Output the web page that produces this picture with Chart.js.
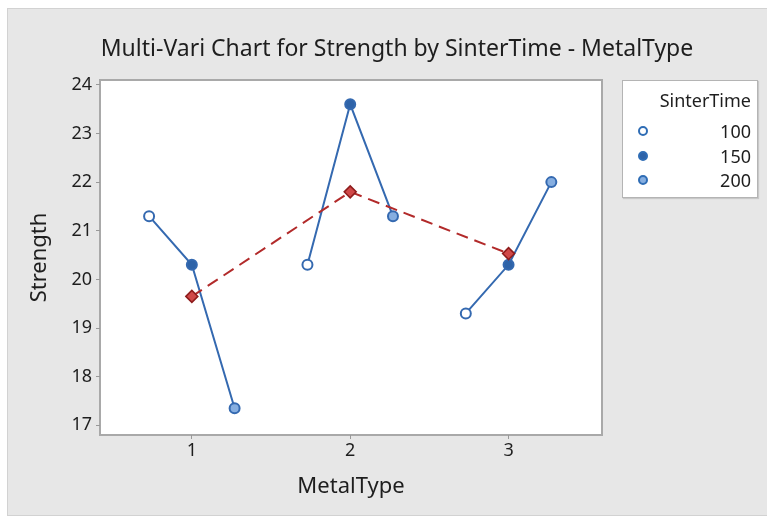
<!DOCTYPE html>
<html lang="en">
<head>
<meta charset="UTF-8" />
<title>Multi-Vari Chart</title>
<script src="https://cdn.jsdelivr.net/npm/chart.js"></script>
<style>
  body { margin: 0; background: #fff; font-family: "Noto Sans", sans-serif; color: #1e1e1e; }
  #panel { position: absolute; left: 7px; top: 8px; width: 760px; height: 506px; background: #e7e7e7; border: 1px solid #d2d2d2; border-right: none; }
  #wrap { position: absolute; left: 0; top: 0; width: 767px; height: 519px; }
  #title { position: absolute; left: 90px; top: 32px; width: 614px; text-align: center; font-size: 23px; line-height: 30px; white-space: nowrap; }
  #legend { position: absolute; left: 622px; top: 80px; width: 134px; height: 116px; background: #fff; border: 1px solid #b4b4b4; box-shadow: 1px 1px 1px #c8c8c8; font-size: 18px; }
  #legend .ttl { position: absolute; right: 6px; top: 7px; line-height: 24px; }
  #legend .row { position: absolute; left: 0; right: 6px; height: 24px; line-height: 24px; text-align: right; }
  #legend .dot { position: absolute; left: 15px; top: 7px; width: 6px; height: 6px; border-radius: 50%; border: 2px solid #2f6db5; }
</style>
</head>
<body>
<div id="panel"></div>
<div id="wrap"><canvas id="mv" width="767" height="519"></canvas></div>
<div id="title">Multi-Vari Chart for Strength by SinterTime - MetalType</div>
<div id="legend"><div class="ttl">SinterTime</div></div>

<script>
// data
const metalTypes = [1, 2, 3];
const sinterTimes = [100, 150, 200];
const strength100 = [21.3, 20.3, 19.3];
const strength150 = [20.3, 23.6, 20.3];
const strength200 = [17.35, 21.3, 22.0];
const meanStrength = [19.65, 21.8, 20.53];
const yTicks = [17, 18, 19, 20, 21, 22, 23, 24];

const series = [strength100, strength150, strength200];
const spread = [-0.27, 0, 0.27]; // sinter times spread around each metal type
const fills = ['#ffffff', '#2e63a8', '#86aee0'];
const blue = '#3469b0';
const red = '#b22a2a';

// one line per metal type, through the three sinter times
const datasets = metalTypes.map((m, i) => ({
    data: sinterTimes.map((t, k) => ({ x: m + spread[k], y: series[k][i] })),
    showLine: true,
    borderColor: blue,
    borderWidth: 2,
    pointRadius: 5,
    pointBorderWidth: 2,
    pointBorderColor: blue,
    pointBackgroundColor: fills,
    order: 1
}));

datasets.push({
    data: metalTypes.map((m, i) => ({ x: m, y: meanStrength[i] })),
    showLine: true,
    borderColor: red,
    borderWidth: 2,
    borderDash: [12, 7],
    pointStyle: 'rectRot',
    pointRadius: 6,
    pointBorderWidth: 1.5,
    pointBorderColor: '#8e1c1c',
    pointBackgroundColor: '#d04848',
    order: 0
});

// white plot box with grey frame
const plotBox = {
    id: 'plotBox',
    beforeDraw(chart) {
        const { ctx, chartArea: a } = chart;
        ctx.save();
        ctx.fillStyle = '#fff';
        ctx.fillRect(a.left, a.top, a.right - a.left, a.bottom - a.top);
        ctx.strokeStyle = '#a9a9a9';
        ctx.lineWidth = 2;
        ctx.strokeRect(a.left, a.top, a.right - a.left, a.bottom - a.top);
        ctx.restore();
    }
};

const font = { family: '"Noto Sans", sans-serif' };

new Chart(document.getElementById('mv'), {
    type: 'scatter',
    data: { datasets: datasets },
    options: {
        responsive: false,
        animation: false,
        layout: { padding: { left: 18, top: 80, right: 165, bottom: 0 } },
        plugins: {
            legend: { display: false },
            tooltip: { enabled: false }
        },
        scales: {
            x: {
                type: 'linear',
                min: 0.42,
                max: 3.59,
                afterBuildTicks: s => { s.ticks = metalTypes.map(v => ({ value: v })); },
                afterFit: s => { s.height = 84; },
                ticks: { color: '#1e1e1e', font: { ...font, size: 18 }, padding: 1 },
                grid: { drawOnChartArea: false, tickLength: 4, color: '#999' },
                border: { display: false },
                title: { display: true, text: 'MetalType', color: '#1e1e1e', font: { ...font, size: 22 }, padding: { top: 0, bottom: 19 } }
            },
            y: {
                min: 16.8,
                max: 24.1,
                afterBuildTicks: s => { s.ticks = yTicks.map(v => ({ value: v })); },
                afterFit: s => { s.width = 82; },
                ticks: { color: '#1e1e1e', font: { ...font, size: 18 }, padding: 4 },
                grid: { drawOnChartArea: false, tickLength: 4, color: '#999' },
                border: { display: false },
                title: { display: true, text: 'Strength', color: '#1e1e1e', font: { ...font, size: 22 }, padding: { top: 9, bottom: 0 } }
            }
        }
    },
    plugins: [plotBox]
});

// legend entries
const legend = document.getElementById('legend');
sinterTimes.forEach((t, k) => {
    const row = document.createElement('div');
    row.className = 'row';
    row.style.top = (38 + k * 24.5) + 'px';
    row.innerHTML = '<span class="dot" style="background:' + fills[k] + '"></span>' + t;
    legend.appendChild(row);
});
</script>
</body>
</html>
